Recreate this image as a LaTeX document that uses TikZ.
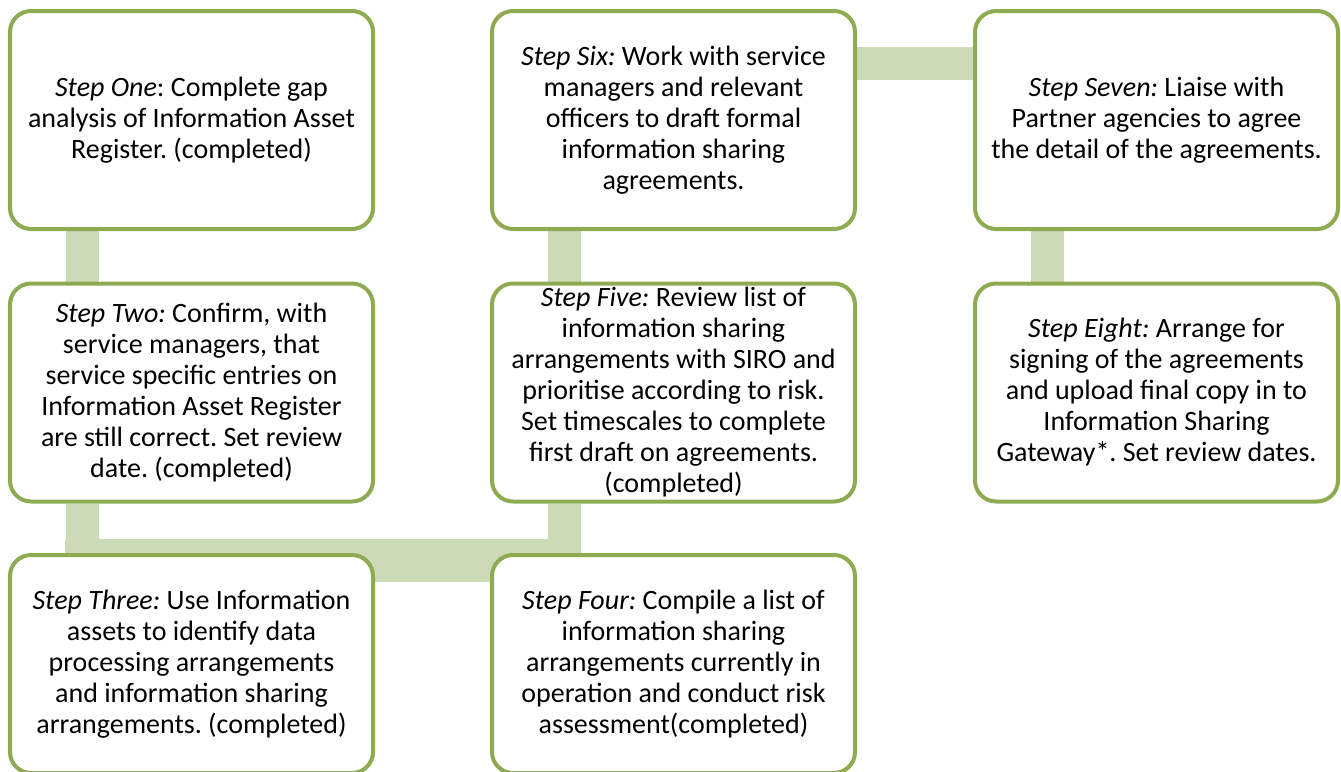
\documentclass[tikz,border=0pt]{standalone}
\usepackage{fontspec}
\setmainfont{Carlito}
\frenchspacing
\usetikzlibrary{backgrounds}
\definecolor{boxline}{HTML}{8EAB52}
\definecolor{barfill}{HTML}{CCDAB7}
\tikzset{
  stepbox/.style={draw=boxline, line width=2pt, fill=white, rounded corners=10.5pt,
    minimum width=181.5pt, minimum height=109pt, inner sep=0pt, align=center,
    font=\fontsize{14}{15.5}\selectfont, text=black},
  vbar/.style={draw=barfill, line width=16.5pt, line cap=butt},
  hbar/.style={draw=barfill, line width=21.5pt, line cap=butt}
}
\begin{document}
\begin{tikzpicture}[x=0.5pt, y=-0.5pt]
\useasboundingbox (0,0) rectangle (1341,772);
\node[stepbox] (s1) at (191.5,120) {\textit{Step One}: Complete gap\\analysis of Information Asset\\Register. (completed)};
\node[stepbox] (s2) at (191.5,392.5) {\textit{Step Two:} Confirm, with\\service managers, that\\service specific entries on\\Information Asset Register\\are still correct. Set review\\date. (completed)};
\node[stepbox] (s3) at (191.5,664) {\textit{Step Three:} Use Information\\assets to identify data\\processing arrangements\\and information sharing\\arrangements. (completed)};
\node[stepbox] (s4) at (673.5,664) {\textit{Step Four:} Compile a list of\\information sharing\\arrangements currently in\\operation and conduct risk\\assessment(completed)};
\node[stepbox] (s5) at (673.5,392.5) {\textit{Step Five:} Review list of\\information sharing\\arrangements with SIRO and\\prioritise according to risk.\\Set timescales to complete\\first draft on agreements.\\(completed)};
\node[stepbox] (s6) at (673.5,120) {\textit{Step Six:} Work with service\\managers and relevant\\officers to draft formal\\information sharing\\agreements.};
\node[stepbox] (s7) at (1156.5,120) {\textit{Step Seven:} Liaise with\\Partner agencies to agree\\the detail of the agreements.};
\node[stepbox] (s8) at (1156.5,392.5) {\textit{Step Eight:} Arrange for\\signing of the agreements\\and upload final copy in to\\Information Sharing\\Gateway*. Set review dates.};
\coordinate (hl) at ([xshift=28.5pt,yshift=-28.25pt]s2.south west);
\coordinate (hr) at ([xshift=45.5pt,yshift=-28.25pt]s5.south west);
\begin{scope}[on background layer]
\draw[vbar] ([xshift=37pt]s1.south west) -- ([xshift=37pt]s2.north west);
\draw[vbar] ([xshift=37pt]s2.south west) -- ([xshift=37pt]s2.south west |- hl);
\draw[hbar] (hl) -- (hr);
\draw[vbar] ([xshift=37pt]s5.south west) -- ([xshift=37pt]s5.south west |- hr);
\draw[vbar] ([xshift=37pt]s6.south west) -- ([xshift=37pt]s5.north west);
\draw[vbar] ([yshift=-27.25pt]s6.north east) -- ([yshift=-27.25pt]s7.north west);
\draw[vbar] ([xshift=37pt]s7.south west) -- ([xshift=37pt]s8.north west);
\end{scope}
\end{tikzpicture}
\end{document}
